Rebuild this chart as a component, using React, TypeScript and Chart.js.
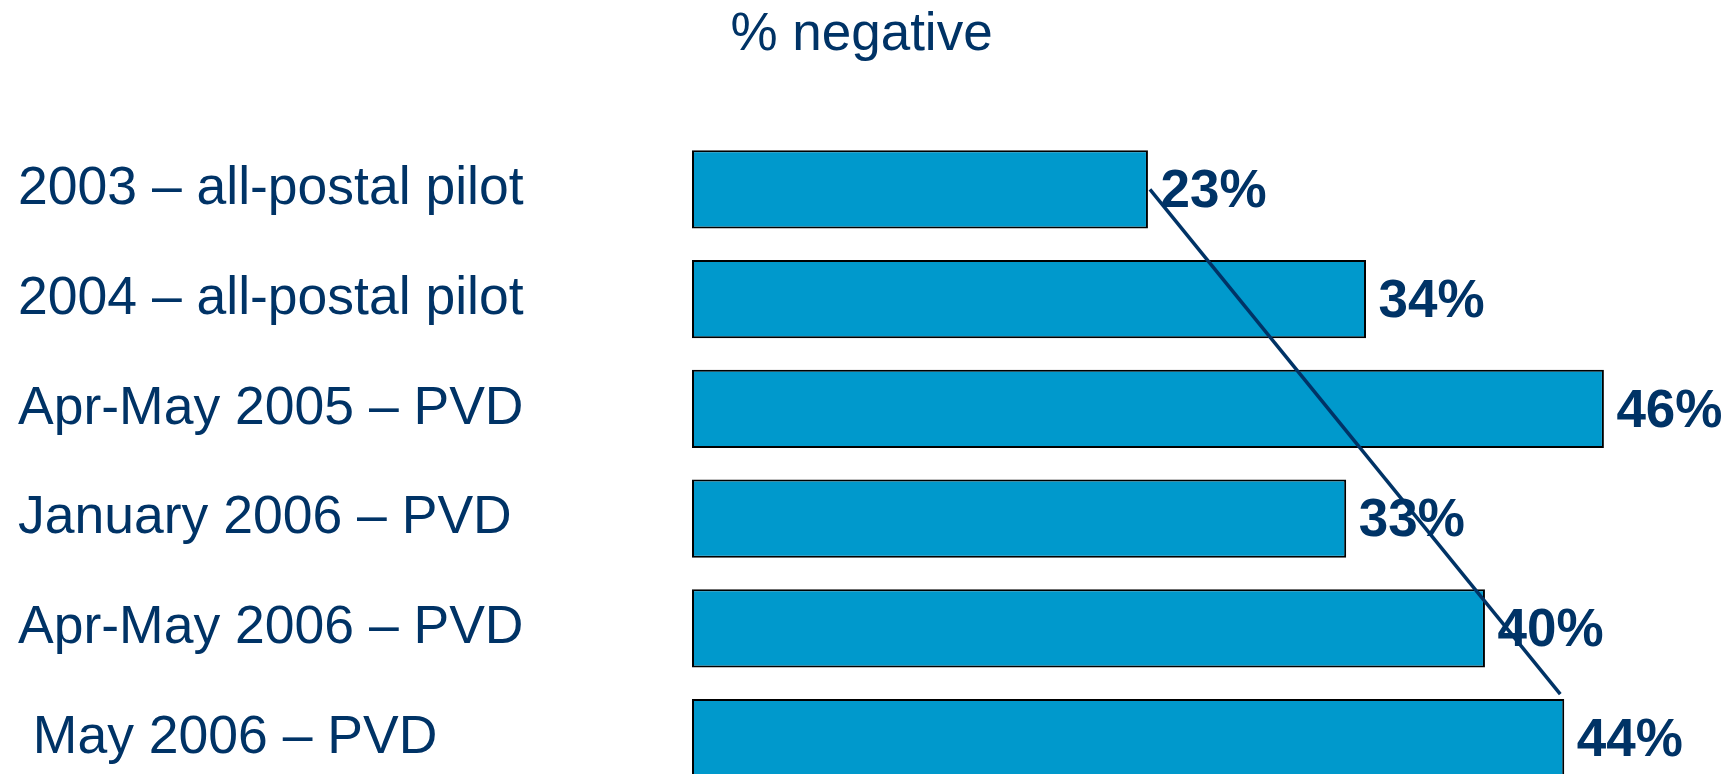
import React, { useEffect, useRef } from "react";
import { Chart, registerables } from "chart.js";

Chart.register(...registerables);

const categories = [
  "2003 – all-postal pilot",
  "2004 – all-postal pilot",
  "Apr-May 2005 – PVD",
  "January 2006 – PVD",
  "Apr-May 2006 – PVD",
  " May 2006 – PVD",
];
const negativePct = [23, 34, 46, 33, 40, 44];
const trendX = [23.1, 43.8];
const trendY = [0, 4.6];
const titleText = "% negative";

const NAVY = "#003366";
const BAR = "#0099CC";
const FONT = "'Liberation Sans', Arial, Helvetica, sans-serif";

const valueLabels = {
  id: "valueLabels",
  afterDatasetsDraw(chart: any) {
    const ctx = chart.ctx;
    const meta = chart.getDatasetMeta(0);
    ctx.save();
    ctx.font = `bold 53px ${FONT}`;
    ctx.fillStyle = NAVY;
    ctx.textAlign = "left";
    ctx.textBaseline = "alphabetic";
    meta.data.forEach((el: any, i: number) => {
      ctx.fillText(`${negativePct[i]}%`, el.x + 12.5, el.y + 17.8);
    });
    ctx.restore();
  },
};

export default function App() {
  const ref = useRef<HTMLCanvasElement | null>(null);
  useEffect(() => {
    if (!ref.current) return;
    const chart = new Chart(ref.current, {
      type: "bar",
      data: {
        labels: categories,
        datasets: [
          {
            type: "bar",
            data: negativePct,
            backgroundColor: BAR,
            borderColor: "#000000",
            borderWidth: 2,
            borderSkipped: false,
            grouped: false,
            categoryPercentage: 1,
            barPercentage: 0.7127,
            xAxisID: "x",
            yAxisID: "y",
            order: 1,
          } as any,
          {
            type: "line",
            data: trendX.map((x, i) => ({ x, y: trendY[i] })),
            borderColor: NAVY,
            borderWidth: 3.5,
            pointRadius: 0,
            fill: false,
            xAxisID: "x",
            yAxisID: "y2",
            order: 0,
          } as any,
        ],
      },
      options: {
        indexAxis: "y",
        responsive: false,
        animation: false,
        devicePixelRatio: 1,
        layout: { padding: { left: 18, right: 30, top: 0, bottom: 6.5 } },
        plugins: {
          legend: { display: false },
          tooltip: { enabled: false },
          title: {
            display: true,
            text: titleText,
            color: NAVY,
            font: { family: FONT, size: 53, weight: "normal" as any },
            padding: { top: 3.5, bottom: 67.4 },
          },
        },
        scales: {
          x: {
            type: "linear",
            axis: "x",
            min: 0,
            max: 51.1,
            display: false,
          },
          y: {
            type: "category",
            axis: "y",
            offset: true,
            grid: { display: false },
            border: { display: false },
            ticks: {
              crossAlign: "far",
              color: NAVY,
              font: { family: FONT, size: 53.5 },
              autoSkip: false,
            },
            afterFit(scale: any) {
              scale.width = 674;
            },
          },
          y2: {
            type: "linear",
            axis: "y",
            min: -0.5,
            max: 5.5,
            reverse: true,
            offset: false,
            display: false,
          },
        } as any,
      },
      plugins: [valueLabels],
    });
    return () => chart.destroy();
  }, []);
  return (
    <div
      style={{
        position: "fixed",
        left: 0,
        top: 0,
        width: "100vw",
        height: "100vh",
        overflow: "hidden",
        background: "#ffffff",
      }}
    >
      <canvas
        ref={ref}
        width={1735}
        height={828}
        style={{ display: "block", width: "1735px", height: "828px" }}
      />
    </div>
  );
}
